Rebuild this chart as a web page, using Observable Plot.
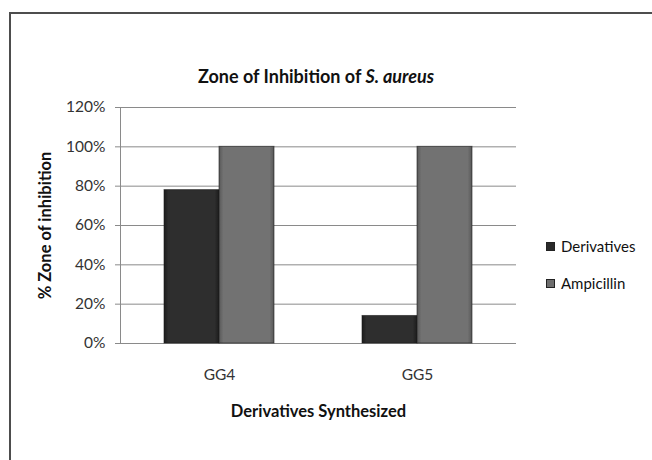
<!DOCTYPE html>
<html>
<head>
<meta charset="utf-8">
<script src="https://cdn.jsdelivr.net/npm/d3@7"></script>
<script src="https://cdn.jsdelivr.net/npm/@observablehq/plot@0.6"></script>
<style>
  html, body { margin: 0; padding: 0; background: #fff; width: 652px; height: 460px; overflow: hidden; }
  body { font-family: Lato, "Open Sans", sans-serif; position: relative; }
  #frame { position: absolute; left: 9px; top: 12px; width: 700px; height: 500px;
           border-left: 2px solid #4d4d4d; border-top: 2px solid #4d4d4d; box-sizing: border-box; }
  #title { position: absolute; left: 0; top: 65px; width: 632px; text-align: center;
           font-weight: bold; font-size: 18px; color: #111; }
  #chart { position: absolute; left: 0; top: 95px; }
  #legend { position: absolute; left: 546px; top: 236px; font-size: 15px; color: #111; }
  .item { display: flex; align-items: center; height: 20px; margin-bottom: 17px; }
  .sw { width: 9px; height: 9px; margin-right: 6px; box-sizing: border-box; border: 1px solid #222; }
  #chart svg g[aria-label="y-axis label"] text, #chart svg g[aria-label="fx-axis label"] text { font-weight: bold; fill: #111; font-size: 16.5px; }
  #chart svg g[aria-label="y-axis tick label"] text, #chart svg g[aria-label="fx-axis tick label"] text { font-size: 15.5px; fill: #333; }
</style>
</head>
<body>
<div id="frame"></div>
<div id="title">Zone of Inhibition of <i>S. aureus</i></div>
<div id="chart"></div>
<div id="legend"></div>
<script>
const categories = ["GG4", "GG5"];
const series = ["Derivatives", "Ampicillin"];
const derivatives = [0.78, 0.14];
const ampicillin = [1.0, 1.0];
const yTicks = [0, 0.2, 0.4, 0.6, 0.8, 1.0, 1.2];
const seriesColors = ["#2a2a2a", "#6e6e6e"];

const data = [];
categories.forEach((c, i) => {
  data.push({cat: c, series: series[0], value: derivatives[i]});
  data.push({cat: c, series: series[1], value: ampicillin[i]});
});

const plot = Plot.plot({
  width: 652,
  height: 340,
  marginLeft: 119,
  marginRight: 136,
  marginTop: 12,
  marginBottom: 92,
  style: {fontFamily: "Lato, 'Open Sans', sans-serif", fontSize: "14px", color: "#333"},
  fx: {domain: categories, padding: 0, label: "Derivatives Synthesized"},
  x: {domain: series, paddingInner: 0, paddingOuter: 0.77, axis: null},
  y: {domain: [0, 1.2], label: "% Zone of inhibition", labelArrow: "none"},
  color: {domain: series, range: ["url(#gD)", "url(#gA)"]},
  marks: [
    Plot.gridY(yTicks, {stroke: "#8a8a8a", strokeOpacity: 1, strokeWidth: 1}),
    Plot.axisY(yTicks, {tickFormat: d3.format(".0%"), tickSize: 5, tickPadding: 10, stroke: "#8a8a8a",
      label: "% Zone of inhibition", labelArrow: "none", labelAnchor: "center", labelOffset: 81, fill: "#333"}),
    Plot.axisFx({anchor: "bottom", tickSize: 0, tickPadding: 25, label: "Derivatives Synthesized",
      labelAnchor: "center", labelOffset: 73, fill: "#333"}),
    Plot.frame({anchor: "left", facetAnchor: "left", stroke: "#8a8a8a"}),
    Plot.barY(data, {fx: "cat", x: "series", y: "value", fill: "series", stroke: "#1a1a1a", strokeOpacity: 0.6})
  ]
});

// gradient definitions for bevelled look
const svgNS = "http://www.w3.org/2000/svg";
const defs = document.createElementNS(svgNS, "defs");
const grads = [["gD", "#1c1c1c", "#2e2e2e"], ["gA", "#585858", "#727272"]];
grads.forEach(([id, edge, mid]) => {
  const g = document.createElementNS(svgNS, "linearGradient");
  g.setAttribute("id", id);
  g.setAttribute("x1", "0"); g.setAttribute("x2", "1"); g.setAttribute("y1", "0"); g.setAttribute("y2", "0");
  [[0, edge], [0.08, mid], [0.92, mid], [1, edge]].forEach(([o, c]) => {
    const s = document.createElementNS(svgNS, "stop");
    s.setAttribute("offset", o); s.setAttribute("stop-color", c);
    g.appendChild(s);
  });
  defs.appendChild(g);
});
plot.insertBefore(defs, plot.firstChild);
document.getElementById("chart").appendChild(plot);

const legend = document.getElementById("legend");
series.forEach((s, i) => {
  const item = document.createElement("div");
  item.className = "item";
  const sw = document.createElement("div");
  sw.className = "sw";
  sw.style.background = seriesColors[i];
  const t = document.createElement("span");
  t.textContent = s;
  item.appendChild(sw); item.appendChild(t);
  legend.appendChild(item);
});
</script>
</body>
</html>
